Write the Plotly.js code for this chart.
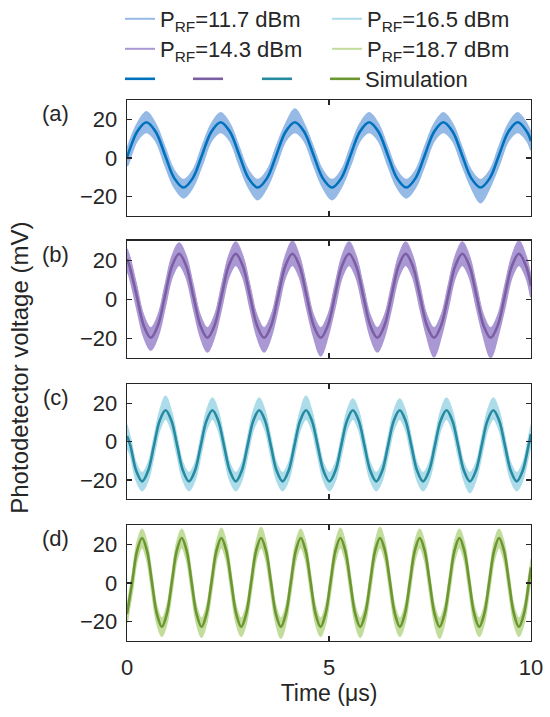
<!DOCTYPE html>
<html>
<head>
<meta charset="utf-8">
<script src="https://cdn.plot.ly/plotly-3.0.1.min.js"></script>
<style>
  html, body { margin: 0; padding: 0; background: #fff; overflow: hidden; }
  #chart { width: 550px; height: 717px; }
</style>
</head>
<body>
<div id="chart"></div>
<script>
// ---- Data (time in µs, voltage in mV) ----
const legendNames = ['P<sub>RF</sub>=11.7 dBm', 'P<sub>RF</sub>=14.3 dBm', 'P<sub>RF</sub>=16.5 dBm', 'P<sub>RF</sub>=18.7 dBm'];
const simNames = [' ', ' ', ' ', 'Simulation'];
const panelLabels = ['(a)', '(b)', '(c)', '(d)'];
const xTicks = [0, 5, 10];
const yTicks = [-20, 0, 20];

// Panel (a) P_RF = 11.7 dBm
const tA = [0, 0.021, 0.250, 0.480, 0.710, 0.940, 1.169, 1.399, 1.629, 1.859, 2.088, 2.318, 2.548, 2.778, 3.007, 3.237, 3.467, 3.697, 3.926, 4.156, 4.386, 4.616, 4.845, 5.075, 5.305, 5.535, 5.764, 5.994, 6.224, 6.454, 6.683, 6.913, 7.143, 7.373, 7.602, 7.832, 8.062, 8.292, 8.521, 8.751, 8.981, 9.211, 9.440, 9.670, 9.900, 10];
const simA = [0.4,
  1.6, 13.6, 18.5, 13.6, 1.6, -10.4, -15.3, -10.4,
  1.6, 13.6, 18.5, 13.6, 1.6, -10.4, -15.3, -10.4,
  1.6, 13.6, 18.5, 13.6, 1.6, -10.4, -15.3, -10.4,
  1.6, 13.6, 18.5, 13.6, 1.6, -10.4, -15.3, -10.4,
  1.6, 13.6, 18.5, 13.6, 1.6, -10.4, -15.3, -10.4,
  1.6, 13.6, 18.5, 13.6, 8.8];
const measHiA = [5.0,
  6.5, 18.0, 24.0, 18.0, 6.0, -6.0, -11.0, -6.0,
  6.5, 18.0, 23.5, 18.0, 6.0, -6.0, -11.0, -6.0,
  6.5, 18.0, 25.5, 18.0, 6.0, -6.0, -11.0, -6.0,
  6.5, 18.0, 23.5, 18.0, 6.0, -6.0, -11.0, -6.0,
  6.5, 18.0, 23.5, 18.0, 6.0, -6.0, -11.0, -6.0,
  6.5, 18.0, 23.5, 18.0, 13.5];
const measLoA = [-4.0,
  -3.4, 9.0, 13.3, 9.0, -3.4, -15.0, -20.5, -15.0,
  -3.4, 9.0, 13.3, 9.0, -3.4, -15.0, -21.5, -15.0,
  -3.4, 9.0, 13.3, 9.0, -3.4, -15.0, -21.5, -15.0,
  -3.4, 9.0, 13.3, 9.0, -3.4, -15.0, -20.5, -15.0,
  -3.4, 9.0, 13.3, 9.0, -3.4, -15.0, -23.0, -15.0,
  -3.4, 9.0, 13.3, 9.0, 4.0];

// Panel (b) P_RF = 14.3 dBm
const tB = [0, 0.063, 0.239, 0.414, 0.589, 0.764, 0.940, 1.115, 1.290, 1.465, 1.641, 1.816, 1.991, 2.166, 2.342, 2.517, 2.692, 2.867, 3.043, 3.218, 3.393, 3.568, 3.744, 3.919, 4.094, 4.269, 4.445, 4.620, 4.795, 4.970, 5.146, 5.321, 5.496, 5.671, 5.847, 6.022, 6.197, 6.372, 6.548, 6.723, 6.898, 7.073, 7.249, 7.424, 7.599, 7.774, 7.950, 8.125, 8.300, 8.475, 8.651, 8.826, 9.001, 9.176, 9.352, 9.527, 9.702, 9.877, 10];
const simB = [20.6,
  17.0, 1.8, -13.5, -19.8, -13.5, 1.8, 17.0, 23.3,
  17.0, 1.8, -13.5, -19.8, -13.5, 1.8, 17.0, 23.3,
  17.0, 1.8, -13.5, -19.8, -13.5, 1.8, 17.0, 23.3,
  17.0, 1.8, -13.5, -19.8, -13.5, 1.8, 17.0, 23.3,
  17.0, 1.8, -13.5, -19.8, -13.5, 1.8, 17.0, 23.3,
  17.0, 1.8, -13.5, -19.8, -13.5, 1.8, 17.0, 23.3,
  17.0, 1.8, -13.5, -19.8, -13.5, 1.8, 17.0, 23.3,
  17.0, 6.8];
const measHiB = [26.0,
  22.5, 7.5, -8.0, -14.5, -8.0, 7.5, 22.5, 29.0,
  22.5, 7.5, -8.0, -14.5, -8.0, 7.5, 22.5, 29.5,
  22.5, 7.5, -8.0, -14.5, -8.0, 7.5, 22.5, 30.0,
  22.5, 7.5, -8.0, -14.5, -8.0, 7.5, 22.5, 29.5,
  22.5, 7.5, -8.0, -14.5, -8.0, 7.5, 22.5, 29.5,
  22.5, 7.5, -8.0, -14.5, -8.0, 7.5, 22.5, 29.5,
  22.5, 7.5, -8.0, -14.5, -8.0, 7.5, 22.5, 30.0,
  22.5, 12.0];
const measLoB = [15.0,
  11.5, -4.0, -19.0, -26.0, -19.0, -4.0, 11.5, 17.5,
  11.5, -4.0, -19.0, -27.0, -19.0, -4.0, 11.5, 17.5,
  11.5, -4.0, -19.0, -27.0, -19.0, -4.0, 11.5, 17.5,
  11.5, -4.0, -19.0, -29.0, -19.0, -4.0, 11.5, 17.5,
  11.5, -4.0, -19.0, -27.0, -19.0, -4.0, 11.5, 17.5,
  11.5, -4.0, -19.0, -29.5, -19.0, -4.0, 11.5, 17.5,
  11.5, -4.0, -19.0, -30.0, -19.0, -4.0, 11.5, 17.5,
  11.5, 1.0];

// Panel (c) P_RF = 16.5 dBm
const tC = [0, 0.085, 0.230, 0.375, 0.520, 0.665, 0.810, 0.955, 1.099, 1.244, 1.389, 1.534, 1.679, 1.824, 1.969, 2.114, 2.258, 2.403, 2.548, 2.693, 2.838, 2.983, 3.128, 3.273, 3.417, 3.562, 3.707, 3.852, 3.997, 4.142, 4.287, 4.432, 4.576, 4.721, 4.866, 5.011, 5.156, 5.301, 5.446, 5.591, 5.735, 5.880, 6.025, 6.170, 6.315, 6.460, 6.605, 6.750, 6.894, 7.039, 7.184, 7.329, 7.474, 7.619, 7.764, 7.909, 8.053, 8.198, 8.343, 8.488, 8.633, 8.778, 8.923, 9.068, 9.212, 9.357, 9.502, 9.647, 9.792, 9.937, 10];
const simC = [3.0,
  -2.2, -15.4, -20.8, -15.4, -2.2, 11.0, 16.4, 11.0,
  -2.2, -15.4, -20.8, -15.4, -2.2, 11.0, 16.4, 11.0,
  -2.2, -15.4, -20.8, -15.4, -2.2, 11.0, 16.4, 11.0,
  -2.2, -15.4, -20.8, -15.4, -2.2, 11.0, 16.4, 11.0,
  -2.2, -15.4, -20.8, -15.4, -2.2, 11.0, 16.4, 11.0,
  -2.2, -15.4, -20.8, -15.4, -2.2, 11.0, 16.4, 11.0,
  -2.2, -15.4, -20.8, -15.4, -2.2, 11.0, 16.4, 11.0,
  -2.2, -15.4, -20.8, -15.4, -2.2, 11.0, 16.4, 11.0,
  -2.2, -15.4, -20.8, -15.4, -2.2, 4.0];
const measHiC = [9.0,
  2.5, -11.0, -16.0, -11.0, 2.5, 16.5, 24.0, 16.5,
  2.5, -11.0, -16.0, -11.0, 2.5, 16.5, 23.0, 16.5,
  2.5, -11.0, -16.0, -11.0, 2.5, 16.5, 23.0, 16.5,
  2.5, -11.0, -16.0, -11.0, 2.5, 16.5, 24.0, 16.5,
  2.5, -11.0, -16.0, -11.0, 2.5, 16.5, 22.5, 16.5,
  2.5, -11.0, -16.0, -11.0, 2.5, 16.5, 22.5, 16.5,
  2.5, -11.0, -16.0, -11.0, 2.5, 16.5, 23.0, 16.5,
  2.5, -11.0, -16.0, -11.0, 2.5, 16.5, 23.0, 16.5,
  2.5, -11.0, -16.0, -11.0, 2.5, 9.0];
const measLoC = [-3.0,
  -7.0, -20.0, -25.5, -20.0, -7.0, 6.5, 12.0, 6.5,
  -7.0, -20.0, -25.5, -20.0, -7.0, 6.5, 12.0, 6.5,
  -7.0, -20.0, -25.5, -20.0, -7.0, 6.5, 12.0, 6.5,
  -7.0, -20.0, -25.5, -20.0, -7.0, 6.5, 12.0, 6.5,
  -7.0, -20.0, -25.5, -20.0, -7.0, 6.5, 12.0, 6.5,
  -7.0, -20.0, -25.5, -20.0, -7.0, 6.5, 12.0, 6.5,
  -7.0, -20.0, -25.5, -20.0, -7.0, 6.5, 12.0, 6.5,
  -7.0, -20.0, -26.5, -20.0, -7.0, 6.5, 12.0, 6.5,
  -7.0, -20.0, -25.5, -20.0, -7.0, -1.0];

// Panel (d) P_RF = 18.7 dBm
const tD = [0, 0.127, 0.249, 0.372, 0.495, 0.618, 0.740, 0.863, 0.986, 1.109, 1.231, 1.354, 1.477, 1.600, 1.722, 1.845, 1.968, 2.091, 2.213, 2.336, 2.459, 2.582, 2.704, 2.827, 2.950, 3.073, 3.195, 3.318, 3.441, 3.564, 3.686, 3.809, 3.932, 4.055, 4.177, 4.300, 4.423, 4.546, 4.668, 4.791, 4.914, 5.037, 5.159, 5.282, 5.405, 5.528, 5.650, 5.773, 5.896, 6.019, 6.141, 6.264, 6.387, 6.510, 6.632, 6.755, 6.878, 7.001, 7.123, 7.246, 7.369, 7.492, 7.614, 7.737, 7.860, 7.983, 8.105, 8.228, 8.351, 8.474, 8.596, 8.719, 8.842, 8.965, 9.087, 9.210, 9.333, 9.456, 9.578, 9.701, 9.824, 9.947, 10];
const simD = [
  -16.0, 0.3, 16.6, 23.3, 16.6, 0.3, -16.0, -22.7,
  -16.0, 0.3, 16.6, 23.3, 16.6, 0.3, -16.0, -22.7,
  -16.0, 0.3, 16.6, 23.3, 16.6, 0.3, -16.0, -22.7,
  -16.0, 0.3, 16.6, 23.3, 16.6, 0.3, -16.0, -22.7,
  -16.0, 0.3, 16.6, 23.3, 16.6, 0.3, -16.0, -22.7,
  -16.0, 0.3, 16.6, 23.3, 16.6, 0.3, -16.0, -22.7,
  -16.0, 0.3, 16.6, 23.3, 16.6, 0.3, -16.0, -22.7,
  -16.0, 0.3, 16.6, 23.3, 16.6, 0.3, -16.0, -22.7,
  -16.0, 0.3, 16.6, 23.3, 16.6, 0.3, -16.0, -22.7,
  -16.0, 0.3, 16.6, 23.3, 16.6, 0.3, -16.0, -22.7,
  -16.0, 0.3, 8.0];
const measHiD = [
  -11.5, 5.0, 21.5, 28.0, 21.5, 5.0, -11.5, -18.0,
  -11.5, 5.0, 21.5, 28.0, 21.5, 5.0, -11.5, -18.0,
  -11.5, 5.0, 21.5, 28.5, 21.5, 5.0, -11.5, -18.0,
  -11.5, 5.0, 21.5, 29.0, 21.5, 5.0, -11.5, -18.0,
  -11.5, 5.0, 21.5, 28.0, 21.5, 5.0, -11.5, -18.0,
  -11.5, 5.0, 21.5, 28.5, 21.5, 5.0, -11.5, -18.0,
  -11.5, 5.0, 21.5, 29.0, 21.5, 5.0, -11.5, -18.0,
  -11.5, 5.0, 21.5, 28.0, 21.5, 5.0, -11.5, -18.0,
  -11.5, 5.0, 21.5, 28.0, 21.5, 5.0, -11.5, -18.0,
  -11.5, 5.0, 21.5, 28.0, 21.5, 5.0, -11.5, -18.0,
  -11.5, 5.0, 12.5];
const measLoD = [
  -20.5, -4.5, 12.0, 18.5, 12.0, -4.5, -20.5, -27.5,
  -20.5, -4.5, 12.0, 18.5, 12.0, -4.5, -20.5, -28.0,
  -20.5, -4.5, 12.0, 18.5, 12.0, -4.5, -20.5, -27.5,
  -20.5, -4.5, 12.0, 18.5, 12.0, -4.5, -20.5, -28.5,
  -20.5, -4.5, 12.0, 18.5, 12.0, -4.5, -20.5, -27.5,
  -20.5, -4.5, 12.0, 18.5, 12.0, -4.5, -20.5, -28.0,
  -20.5, -4.5, 12.0, 18.5, 12.0, -4.5, -20.5, -27.5,
  -20.5, -4.5, 12.0, 18.5, 12.0, -4.5, -20.5, -28.5,
  -20.5, -4.5, 12.0, 18.5, 12.0, -4.5, -20.5, -27.5,
  -20.5, -4.5, 12.0, 18.5, 12.0, -4.5, -20.5, -27.5,
  -20.5, -4.5, 3.5];

// ---- Styling ----
const FONT = 'Liberation Sans, Arial, Helvetica, sans-serif';
const INK = '#262626';
const measColors = ['rgb(150,186,230)', 'rgb(170,152,212)', 'rgb(172,220,234)', 'rgb(194,221,155)'];
const simColors  = ['rgb(0,114,189)', 'rgb(125,94,163)', 'rgb(38,138,160)', 'rgb(108,150,50)'];
// legend slot (left x in px, centre y in px) for each entry
const measLegendPos = [[120, 19], [120, 49], [327, 19], [327, 49]];
const simLegendPos  = [[120, 79], [188, 79], [257, 79], [325, 79]];

const panels = [
  {t: tA, sim: simA, hi: measHiA, lo: measLoA},
  {t: tB, sim: simB, hi: measHiB, lo: measLoB},
  {t: tC, sim: simC, hi: measHiC, lo: measLoC},
  {t: tD, sim: simD, hi: measHiD, lo: measLoD}
];

const data = [];
panels.forEach((p, i) => {
  const xa = i === 0 ? 'x' : 'x' + (i + 1);
  const ya = i === 0 ? 'y' : 'y' + (i + 1);
  data.push({
    x: p.t, y: p.lo, xaxis: xa, yaxis: ya, type: 'scatter', mode: 'lines',
    line: {color: measColors[i], width: 2, shape: 'spline'},
    name: legendNames[i], legend: 'legend' + (i === 0 ? '' : (i + 1)), hoverinfo: 'skip'
  });
  data.push({
    x: p.t, y: p.hi, xaxis: xa, yaxis: ya, type: 'scatter', mode: 'lines',
    line: {color: measColors[i], width: 1, shape: 'spline'},
    fill: 'tonexty', fillcolor: measColors[i],
    showlegend: false, hoverinfo: 'skip'
  });
  data.push({
    x: p.t, y: p.sim, xaxis: xa, yaxis: ya, type: 'scatter', mode: 'lines',
    line: {color: simColors[i], width: 2.6, shape: 'spline'},
    name: simNames[i], legend: 'legend' + (i + 5), hoverinfo: 'skip'
  });
});

const domains = [[0.7856, 1.0], [0.5237, 0.7399], [0.2625, 0.4745], [0.0, 0.2144]];

const baseAxis = {
  showline: true, mirror: 'ticks', linecolor: INK, linewidth: 1.3,
  ticks: 'inside', ticklen: 5, tickwidth: 1.3, tickcolor: INK,
  showgrid: false, zeroline: false,
  tickfont: {family: FONT, size: 22, color: INK}
};

const layout = {
  width: 550, height: 717,
  margin: {l: 127, r: 19, t: 100, b: 76, autoexpand: false},
  paper_bgcolor: '#fff', plot_bgcolor: '#fff',
  font: {family: FONT, size: 22, color: INK},
  showlegend: true,
  annotations: []
};

function legendBox(pos) {
  return {
    orientation: 'v', xref: 'container', yref: 'container',
    x: pos[0] / 550, xanchor: 'left', y: 1 - pos[1] / 717, yanchor: 'middle',
    bgcolor: 'rgba(0,0,0,0)', borderwidth: 0,
    font: {family: FONT, size: 22, color: INK}
  };
}
for (let i = 0; i < 4; i++) {
  layout['legend' + (i === 0 ? '' : (i + 1))] = legendBox(measLegendPos[i]);
  layout['legend' + (i + 5)] = legendBox(simLegendPos[i]);
}

for (let i = 0; i < 4; i++) {
  const xk = i === 0 ? 'xaxis' : 'xaxis' + (i + 1);
  const yk = i === 0 ? 'yaxis' : 'yaxis' + (i + 1);
  const yname = i === 0 ? 'y' : 'y' + (i + 1);
  const xname = i === 0 ? 'x' : 'x' + (i + 1);
  layout[xk] = Object.assign({}, baseAxis, {
    domain: [0, 1], anchor: yname, range: [0, 10],
    tickmode: 'array', tickvals: xTicks, ticktext: xTicks.map(String),
    showticklabels: i === 3, ticklabelstandoff: 6
  });
  if (i === 3) {
    layout[xk].title = {text: 'Time (μs)', font: {family: FONT, size: 23, color: INK}, standoff: 4};
  }
  layout[yk] = Object.assign({}, baseAxis, {
    domain: domains[i], anchor: xname, range: [-30, 30],
    tickmode: 'array', tickvals: yTicks, ticklabelstandoff: 4
  });
  layout.annotations.push({
    text: panelLabels[i], xref: 'paper', yref: yname, x: -0.176, y: 23,
    xanchor: 'center', yanchor: 'middle', showarrow: false,
    font: {family: FONT, size: 22, color: INK}
  });
}

layout.annotations.push({
  text: 'Photodetector voltage (mV)', xref: 'paper', yref: 'paper',
  x: -0.268, y: 0.5046, xanchor: 'center', yanchor: 'middle', textangle: -90,
  showarrow: false, font: {family: FONT, size: 24, color: INK}
});

Plotly.newPlot('chart', data, layout, {displayModeBar: false, staticPlot: true});
</script>
</body>
</html>
